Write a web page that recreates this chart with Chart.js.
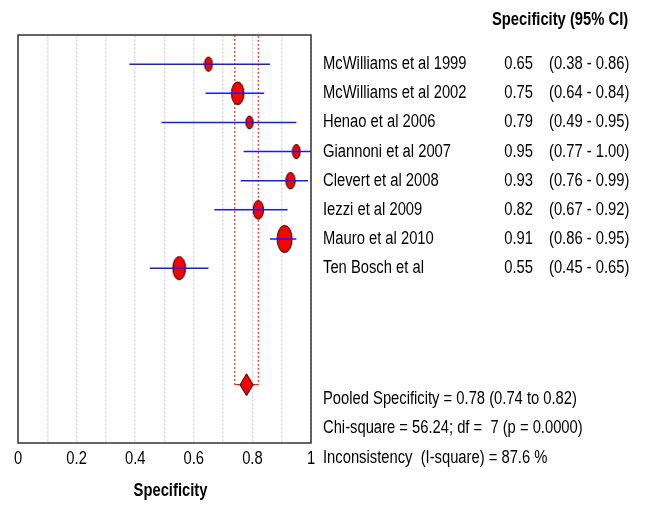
<!DOCTYPE html>
<html>
<head>
<meta charset="utf-8">
<script src="https://cdn.jsdelivr.net/npm/chart.js@4/dist/chart.umd.min.js"></script>
<style>
  html, body { margin: 0; padding: 0; background: #fff; }
  #wrap { width: 646px; height: 505px; }
</style>
</head>
<body>
<div id="wrap"><canvas id="forest" width="646" height="505"></canvas></div>
<script>
// study data
const studies = ['McWilliams et al 1999', 'McWilliams et al 2002', 'Henao et al 2006', 'Giannoni et al 2007',
                 'Clevert et al 2008', 'Iezzi et al 2009', 'Mauro et al 2010', 'Ten Bosch et al'];
const spec   = [0.65, 0.75, 0.79, 0.95, 0.93, 0.82, 0.91, 0.55];
const ciLow  = [0.38, 0.64, 0.49, 0.77, 0.76, 0.67, 0.86, 0.45];
const ciHigh = [0.86, 0.84, 0.95, 1.00, 0.99, 0.92, 0.95, 0.65];
const weights = [11, 28, 9, 11, 15, 19, 40, 29];
const tickLabels = ['0', '0.2', '0.4', '0.6', '0.8', '1'];

const pooled = 0.78, pooledLow = 0.74, pooledHigh = 0.82;
const summaryLines = [
    'Pooled Specificity = 0.78 (0.74 to 0.82)',
    'Chi-square = 56.24; df =  7 (p = 0.0000)',
    'Inconsistency  (I-square) = 87.6 %'
];

// no narrow font installed, so squeeze Liberation Sans horizontally
const FONT = "'Liberation Sans', Arial, sans-serif";
const SQUEEZE = 0.82;
const pooledRow = studies.length + 4;

function narrowText(ctx, text, x, y, align) {
    ctx.save();
    ctx.translate(x, y);
    ctx.scale(SQUEEZE, 1);
    ctx.textAlign = align;
    ctx.fillText(text, 0, 0);
    ctx.restore();
}

function ellipseMarker(w, h) {
    const c = document.createElement('canvas');
    c.width = Math.ceil(w) + 2;
    c.height = Math.ceil(h) + 2;
    const g = c.getContext('2d');
    g.beginPath();
    g.ellipse(c.width / 2, c.height / 2, w / 2, h / 2, 0, 0, Math.PI * 2);
    g.fillStyle = '#ff0000';
    g.fill();
    g.lineWidth = 1;
    g.strokeStyle = '#000';
    g.stroke();
    return c;
}

function diamondMarker(w, h) {
    const c = document.createElement('canvas');
    c.width = w + 2;
    c.height = h + 2;
    const g = c.getContext('2d');
    g.beginPath();
    g.moveTo(c.width / 2, 1);
    g.lineTo(c.width - 1, c.height / 2);
    g.lineTo(c.width / 2, c.height - 1);
    g.lineTo(1, c.height / 2);
    g.closePath();
    g.fillStyle = '#ff0000';
    g.fill();
    g.lineWidth = 1;
    g.strokeStyle = '#000';
    g.stroke();
    return c;
}

const markers = weights.map(wt => {
    const h = 4.3 * Math.sqrt(wt);
    return ellipseMarker(h * 0.55, h);
});

// error bars (drawn on top of the markers)
const ciSets = studies.map((s, i) => ({
    data: [{ x: ciLow[i], y: i + 1 }, { x: ciHigh[i], y: i + 1 }],
    showLine: true,
    borderColor: '#1a1aff',
    borderWidth: 1.5,
    pointRadius: 0,
    order: 0
}));

const datasets = [
    ...ciSets,
    {
        data: studies.map((s, i) => ({ x: spec[i], y: i + 1 })),
        pointStyle: markers,
        pointRadius: 5,
        order: 2
    },
    {
        // pooled CI band
        data: [{ x: pooledLow, y: 0 }, { x: pooledLow, y: pooledRow }, { x: pooledHigh, y: pooledRow }, { x: pooledHigh, y: 0 }],
        showLine: true,
        borderColor: '#ff0000',
        borderWidth: 1,
        borderDash: [2, 2],
        pointRadius: 0,
        order: 3
    },
    {
        data: [{ x: pooledLow, y: pooledRow }, { x: pooledHigh, y: pooledRow }],
        showLine: true,
        borderColor: '#ff0000',
        borderWidth: 1,
        pointRadius: 0,
        order: 3
    },
    {
        data: [{ x: pooled, y: pooledRow }],
        pointStyle: diamondMarker(13, 22),
        pointRadius: 5,
        order: 1
    }
];

const framePlugin = {
    id: 'frame',
    afterDatasetsDraw(chart) {
        const { ctx, chartArea: a } = chart;
        ctx.save();
        ctx.strokeStyle = '#333';
        ctx.lineWidth = 1.5;
        ctx.strokeRect(a.left, a.top, a.right - a.left, a.bottom - a.top);
        ctx.restore();
    }
};

const textPlugin = {
    id: 'forestText',
    afterDraw(chart) {
        const { ctx, chartArea: a } = chart;
        const x = chart.scales.x;
        const y = chart.scales.y;
        ctx.save();
        ctx.fillStyle = '#000';
        ctx.textBaseline = 'middle';

        // header
        ctx.font = 'bold 18px ' + FONT;
        narrowText(ctx, 'Specificity (95% CI)', a.right + 181, 20, 'left');

        // study rows
        ctx.font = '18px ' + FONT;
        studies.forEach((s, i) => {
            const py = y.getPixelForValue(i + 1);
            narrowText(ctx, s, a.right + 12, py, 'left');
            narrowText(ctx, spec[i].toFixed(2), a.right + 222, py, 'right');
            narrowText(ctx, '(' + ciLow[i].toFixed(2) + ' - ' + ciHigh[i].toFixed(2) + ')', a.right + 238, py, 'left');
        });

        summaryLines.forEach((t, k) => {
            narrowText(ctx, t, a.right + 12, y.getPixelForValue(pooledRow + 0.5 + k), 'left');
        });

        // x tick labels and axis title
        tickLabels.forEach(t => {
            narrowText(ctx, t, x.getPixelForValue(parseFloat(t)), a.bottom + 16, 'center');
        });
        ctx.font = 'bold 18px ' + FONT;
        narrowText(ctx, 'Specificity', (a.left + a.right) / 2 + 6, a.bottom + 48, 'center');
        ctx.restore();
    }
};

new Chart(document.getElementById('forest'), {
    type: 'scatter',
    data: { datasets },
    options: {
        responsive: false,
        animation: false,
        events: [],
        layout: { padding: { left: 18, right: 335, top: 35, bottom: 0 } },
        plugins: { legend: { display: false }, tooltip: { enabled: false } },
        scales: {
            x: {
                min: 0,
                max: 1,
                afterFit(scale) { scale.height = 62; },
                grid: { color: '#e2e2e2', lineWidth: 1.5, drawTicks: false },
                border: { display: false, dash: [3, 1] },
                ticks: { stepSize: 0.1, display: false }
            },
            y: {
                display: false,
                min: 0,
                max: 14,
                reverse: true
            }
        }
    },
    plugins: [framePlugin, textPlugin]
});
</script>
</body>
</html>
